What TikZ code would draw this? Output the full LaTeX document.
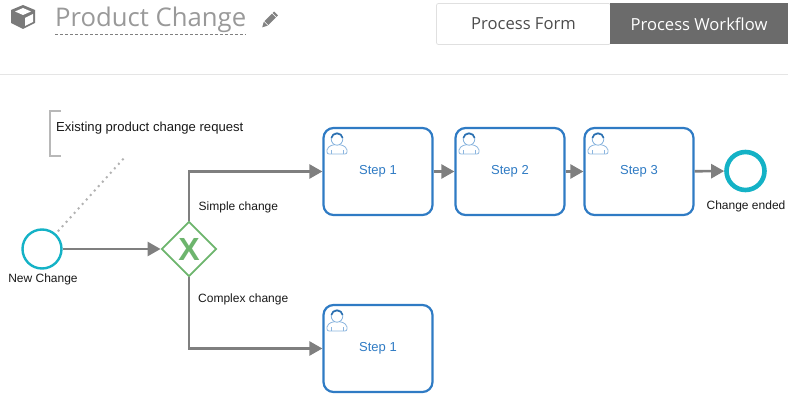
\documentclass[tikz,border=0pt]{standalone}
\usepackage{fontspec}
\usepackage{xcolor}
\setmainfont{Liberation Sans}
\newfontfamily\uifont{Open Sans}
\usetikzlibrary{arrows.meta,shapes.geometric}

\definecolor{taskblue}{HTML}{2F7BC4}
\definecolor{eventteal}{HTML}{14B2C6}
\definecolor{gatewaygreen}{HTML}{6DB56D}
\definecolor{flowgray}{HTML}{7F7F7F}
\definecolor{headgray}{HTML}{6B6B6B}

\tikzset{
    usericon/.pic={
        \draw[taskblue!55, line width=0.8pt, fill=white, rounded corners=2pt] (-10,11) -- (-10,5) -- (-4,1.5) -- (4,1.5) -- (10,5) -- (10,11) -- cycle;
        \draw[taskblue!55, line width=0.8pt] (-6,11) -- (-6,7) (6,11) -- (6,7);
        \draw[taskblue!60, line width=0.8pt, fill=white] (0,-4) ellipse (5.8 and 6.2);
        \draw[taskblue!90!black, line width=1.6pt] (-5.6,-5) .. controls (-5,-11) and (5,-11) .. (5.6,-5);
    }
}

\begin{document}
\begin{tikzpicture}[
    x=1pt, y=-1pt,
    task/.style={draw=taskblue, line width=2.2pt, rounded corners=10pt, fill=white, minimum width=109pt, minimum height=87pt, text=taskblue, font=\fontsize{13}{15}\selectfont},
    startevent/.style={circle, draw=eventteal, line width=2.4pt, fill=white, minimum size=39pt, inner sep=0pt},
    endevent/.style={circle, draw=eventteal, line width=4.6pt, fill=white, minimum size=38pt, inner sep=0pt},
    gateway/.style={diamond, aspect=1, draw=gatewaygreen, line width=1.8pt, fill=white, minimum size=55pt, inner sep=0pt, text=gatewaygreen, font=\fontsize{32}{32}\selectfont\bfseries},
    flow/.style={-{Triangle[length=13pt, width=14pt]}, draw=flowgray, line width=2.6pt, color=flowgray},
    lbl/.style={font=\fontsize{12}{14}\selectfont, text=black!90, inner sep=0pt},
    tab/.style={minimum height=41pt, inner sep=0pt, font=\uifont\fontsize{16.6}{18}\selectfont}
]
\useasboundingbox (0,0) rectangle (788,406);

% Header
\node[inner sep=0pt, anchor=base west, text=black!40, font=\uifont\fontsize{25.7}{32}\selectfont] (title) at (55,27) {Product Change};
\draw[densely dashed, draw=black!50, line width=0.6pt] (55,34.5) -- (246,34.5);
\draw[draw=black!10, line width=1pt] (0,74.5) -- (788,74.5);

% Cube and pencil
\fill[headgray!90] (23,5) -- (35,10) -- (35,23) -- (23,29) -- (11,23) -- (11,10) -- cycle;
\fill[white] (23,8) -- (31,11.5) -- (23,15) -- (15,11.5) -- cycle;
\fill[white] (25,18) -- (33,14) -- (33,22) -- (25,26) -- cycle;
\begin{scope}[shift={(270,19.5)}, rotate=-45, headgray!85]
    \fill (-2.8,-8.5) rectangle (2.8,-6.5);
    \fill (-2.8,-5.5) rectangle (2.8,5);
    \fill (-2.8,6) -- (2.8,6) -- (0,11) -- cycle;
\end{scope}

% Tabs
\node[tab, draw=black!12, line width=0.8pt, rounded corners=2pt, minimum width=174pt, text=black!70] (form) at (523.5,24) {Process Form};
\node[tab, fill=headgray, minimum width=178pt, text=white] (workflow) at (699,24) {Process Workflow};

% Events and gateway
\node[startevent] (start) at (42,249) {};
\node[endevent] (end) at (745.5,171) {};
\node[gateway] (choice) at (189,249) {X};

% Tasks
\node[task] (stepa) at (378,171.5) {Step 1};
\node[task] (stepb) at (510,171.5) {Step 2};
\node[task] (stepc) at (639,171.5) {Step 3};
\node[task] (stepd) at (378,348.5) {Step 1};

% User icons
\pic at (337,143) {usericon};
\pic at (469,143) {usericon};
\pic at (598,143) {usericon};
\pic at (337,320) {usericon};

% Arrows
\draw[flow] (start) -- (choice);
\draw[flow] (choice) |- (stepa);
\draw[flow] (choice) |- (stepd);
\draw[flow] (stepa) -- (stepb);
\draw[flow] (stepb) -- (stepc);
\draw[flow] (stepc) -- (end);

% Annotation
\node[lbl, anchor=west, font=\fontsize{13.1}{15}\selectfont] (note) at (56,128) {Existing product change request};
\coordinate (notetail) at (125,157);
\draw[draw=black!28, line width=1.7pt] (61,111) -- (50,111) -- (50,156) -- (61,156);
\draw[draw=black!30, line width=2pt, dash pattern=on 2pt off 4pt, shorten <=3pt] (start) -- (notetail);

% Labels
\node[lbl, anchor=west] (simple) at (198.5,207) {Simple change};
\node[lbl, anchor=west] (complex) at (198,299) {Complex change};
\node[lbl] (newlabel) at (43,279) {New Change};
\node[lbl] (endlabel) at (746,206) {Change ended};

\end{tikzpicture}
\end{document}
